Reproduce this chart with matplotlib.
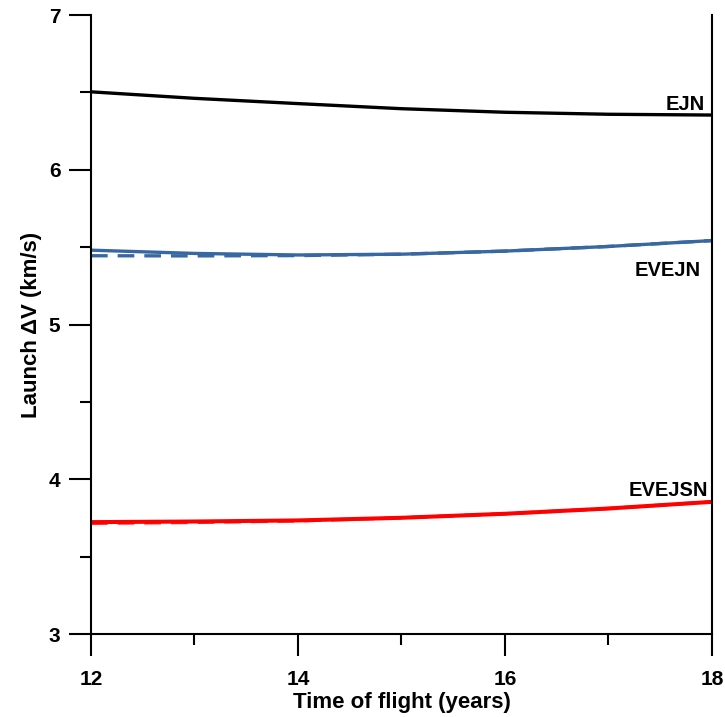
import matplotlib.pyplot as plt
from matplotlib.ticker import MultipleLocator

plt.rcParams['font.family'] = ['Liberation Sans', 'DejaVu Sans']
plt.rcParams['font.weight'] = 'bold'

tof = [12, 13, 14, 15, 16, 17, 18]
ejn = [6.504, 6.462, 6.428, 6.395, 6.372, 6.359, 6.354]
evejn = [5.481, 5.460, 5.450, 5.455, 5.475, 5.505, 5.543]
evejn_dash = [5.445, 5.444, 5.446, 5.455, 5.475, 5.505, 5.543]
evejsn = [3.724, 3.728, 3.735, 3.752, 3.778, 3.812, 3.855]
evejsn_dash = [3.716, 3.722, 3.732, 3.752, 3.778, 3.812, 3.855]

blue = '#3868a2'

fig = plt.figure(figsize=(7.25, 7.17), dpi=100)
ax = fig.add_axes([0.1255, 0.1155, 0.8565, 0.8635])

ax.plot(tof, evejn_dash, '--', color=blue, lw=2.4, dashes=(5, 3))
ax.plot(tof, evejsn_dash, '--', color='#ff3030', lw=2.4, dashes=(5, 3))
ax.plot(tof, ejn, color='black', lw=2.4)
ax.plot(tof, evejn, color=blue, lw=2.4)
ax.plot(tof, evejsn, color='red', lw=2.9)

ax.text(17.93, 6.385, 'EJN', ha='right', va='baseline', fontsize=14.5, fontweight='bold')
ax.text(17.57, 5.35, 'EVEJN', ha='center', va='center', fontsize=14.5, fontweight='bold')
ax.text(17.96, 3.87, 'EVEJSN', ha='right', va='bottom', fontsize=14.5, fontweight='bold')

ax.set_xlim(12, 18)
ax.set_ylim(3, 7)
ax.xaxis.set_major_locator(MultipleLocator(2))
ax.xaxis.set_minor_locator(MultipleLocator(1))
ax.yaxis.set_major_locator(MultipleLocator(1))
ax.yaxis.set_minor_locator(MultipleLocator(0.5))

ax.spines['top'].set_visible(False)
for s in ['left', 'right', 'bottom']:
    ax.spines[s].set_linewidth(1.5)

ax.tick_params(axis='both', which='major', direction='out', length=16, width=1.5, labelsize=15)
ax.tick_params(axis='both', which='minor', direction='out', length=8, width=1.5)
ax.tick_params(axis='x', which='major', pad=10)
ax.tick_params(axis='y', which='major', pad=6)

ax.set_xlabel('Time of flight (years)', fontsize=16, fontweight='bold', labelpad=2)
ax.set_ylabel('Launch \u0394V (km/s)', fontsize=16, fontweight='bold', labelpad=5)

fig.savefig('out.png', dpi=100)
